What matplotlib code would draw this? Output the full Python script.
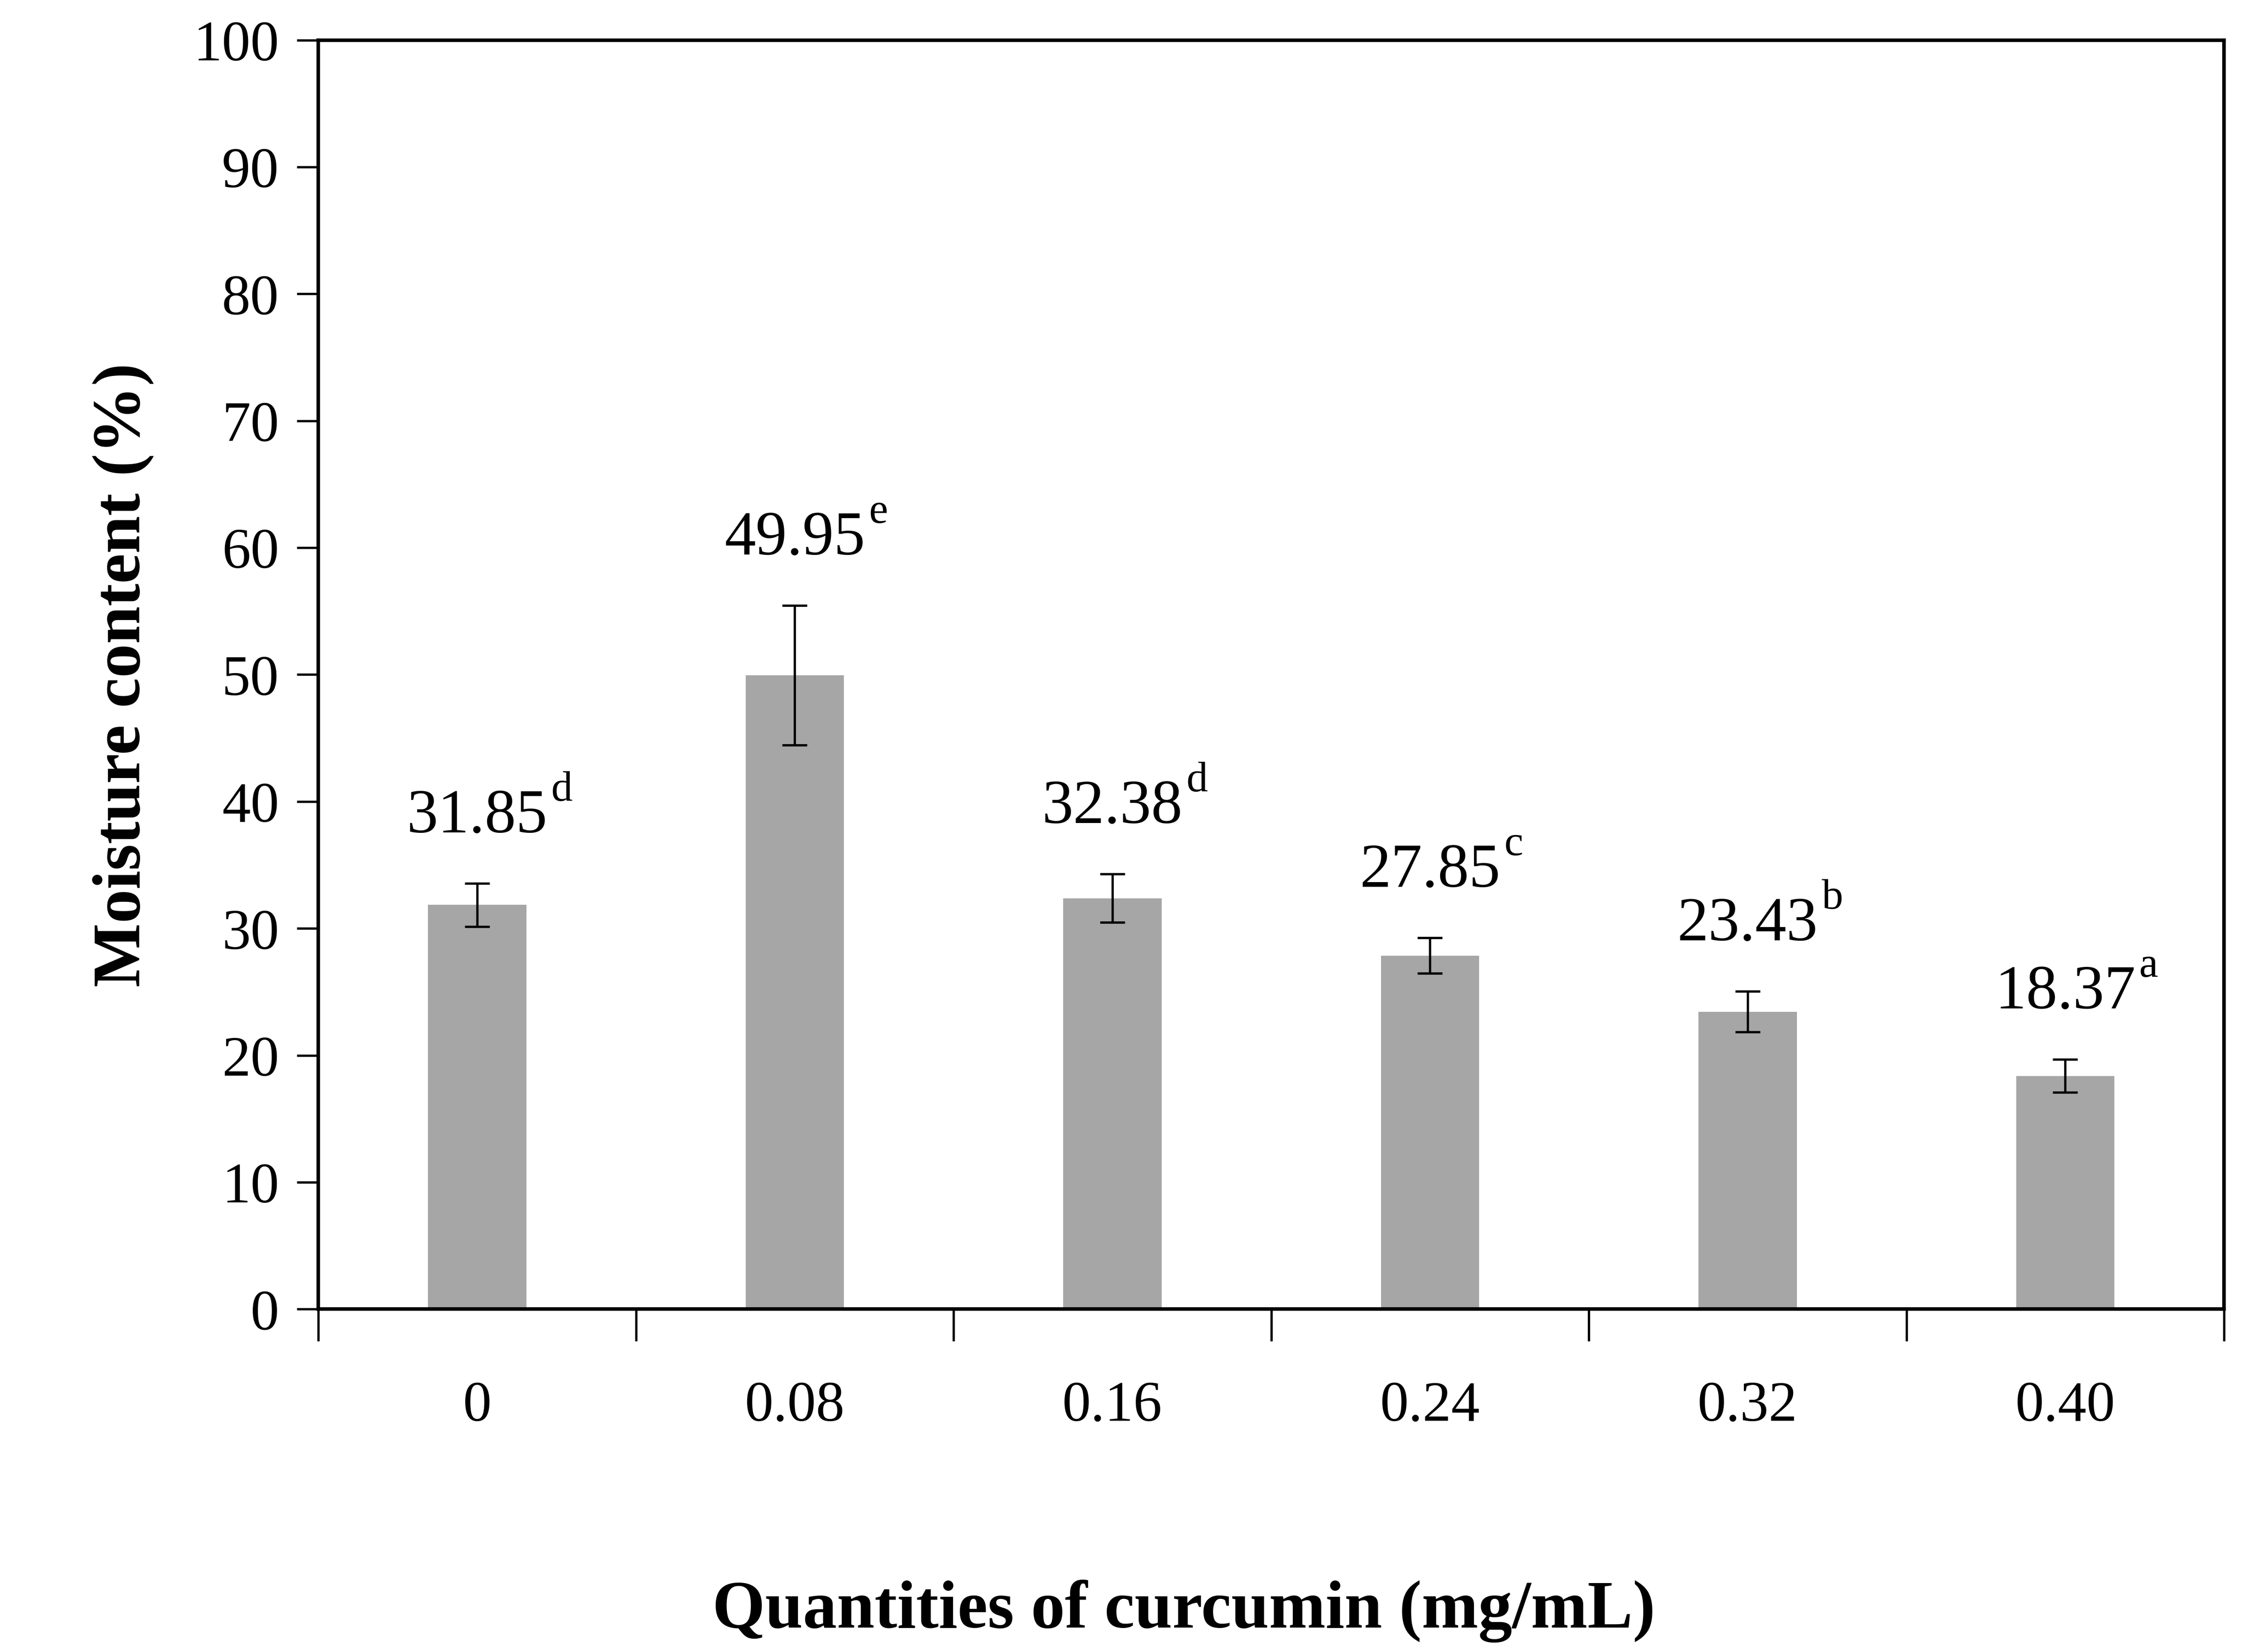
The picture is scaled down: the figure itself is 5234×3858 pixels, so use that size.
import numpy as np
import matplotlib.pyplot as plt

plt.rcParams['font.family'] = ['Liberation Serif', 'DejaVu Serif']

categories = ['0', '0.08', '0.16', '0.24', '0.32', '0.40']
moisture = [31.85, 49.95, 32.38, 27.85, 23.43, 18.37]
errors = [1.7, 5.5, 1.9, 1.4, 1.6, 1.3]
letters = ['d', 'e', 'd', 'c', 'b', 'a']

fig = plt.figure(figsize=(17.447, 12.863), dpi=300)
ax = fig.add_axes([0.142, 0.2075, 0.850, 0.768])

x = np.arange(len(categories))
ax.bar(x, moisture, 0.31, color='#a6a6a6', zorder=2)
ax.errorbar(x, moisture, yerr=errors, fmt='none', ecolor='black',
            elinewidth=1.3, capsize=7, capthick=1.3, zorder=3)

for xi, v, e, l in zip(x, moisture, errors, letters):
    t = ax.text(xi, v + e + 3.0, f'{v:.2f}', ha='center', va='bottom', fontsize=35)
    ax.annotate(l, xy=(1, 1), xycoords=t, xytext=(2, 10), textcoords='offset points',
                ha='left', va='top', fontsize=24)

ax.set_xlim(-0.5, 5.5)
ax.set_ylim(0, 100)
ax.set_yticks(range(0, 101, 10))
ax.set_xticks(x)
ax.set_xticklabels(categories)
ax.set_xticks(np.arange(-0.5, 5.6, 1), minor=True)
ax.tick_params(axis='x', which='major', length=0, pad=40, labelsize=32)
ax.tick_params(axis='x', which='minor', length=18, width=1.3, direction='out')
ax.tick_params(axis='y', length=12, width=1.3, direction='out', labelsize=32, pad=10)

for s in ax.spines.values():
    s.set_linewidth(2)

ax.set_ylabel('Moisture content (%)', fontsize=38, fontweight='bold', labelpad=22)
fig.text(0.528, 0.025, 'Quantities of curcumin (mg/mL)', ha='center', va='center',
         fontsize=38, fontweight='bold')

fig.savefig('out.png', dpi=300)
